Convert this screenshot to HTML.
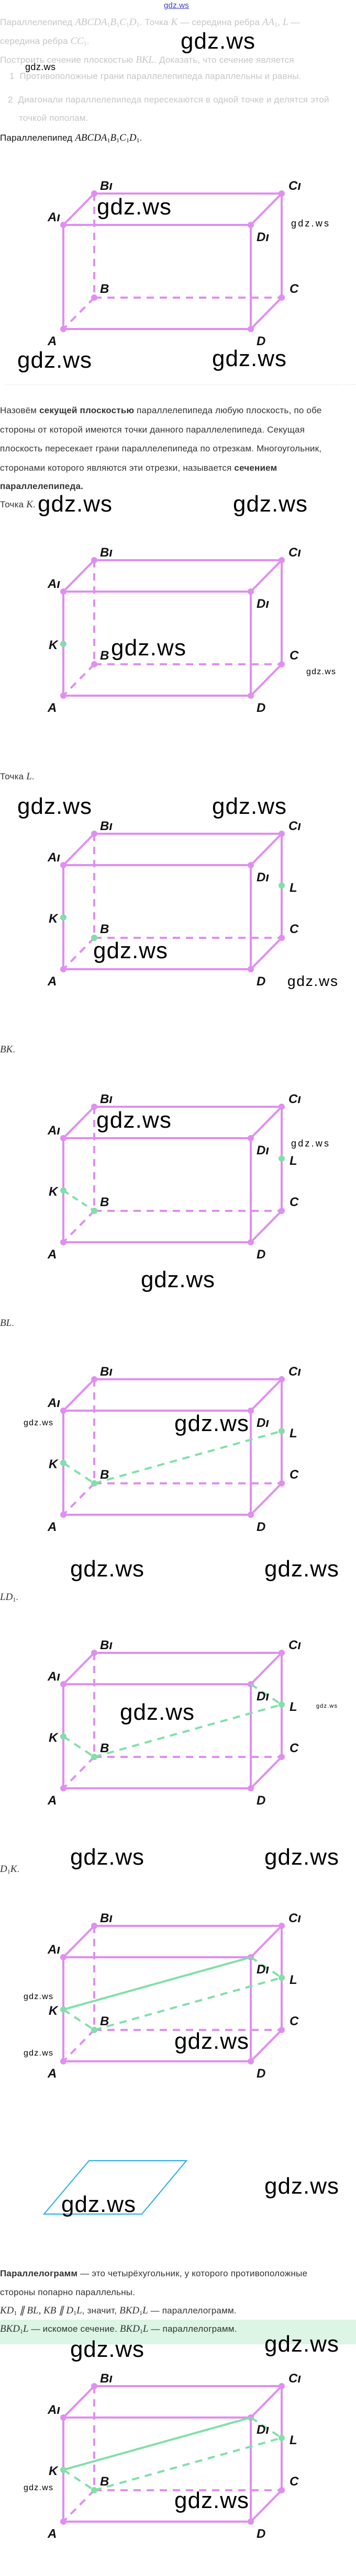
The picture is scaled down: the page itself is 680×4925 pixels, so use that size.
<!DOCTYPE html>
<html><head><meta charset="utf-8">
<style>
html,body{margin:0;padding:0;background:#fff;}
body{width:680px;height:4925px;position:relative;overflow:hidden;font-family:"Liberation Sans",sans-serif;}
.t{position:absolute;white-space:nowrap;font-size:17px;line-height:20px;letter-spacing:.2px;color:#333;}
.g{color:#c6c6c6;}
.m{font-family:"Liberation Serif",serif;font-style:italic;font-size:19px;letter-spacing:0;}
.m sub{font-size:12px;font-style:normal;vertical-align:-3px;}
svg{position:absolute;left:0;top:0;}
</style></head><body>

<div class="t" style="left:313px;top:1px;font-size:15px;color:#3b3bd0;text-decoration:underline;">gdz.ws</div>

<div class="t g" style="left:0;top:33px;">Параллелепипед <span class="m">ABCDA<sub>1</sub>B<sub>1</sub>C<sub>1</sub>D<sub>1</sub></span>. Точка <span class="m">K</span> — середина ребра <span class="m">AA<sub>1</sub></span>, <span class="m">L</span> —</div>
<div class="t g" style="left:0;top:69px;">середина ребра <span class="m">CC<sub>1</sub></span>.</div>
<div class="t g" style="left:0;top:105px;">Построить сечение плоскостью <span class="m">BKL</span>. Доказать, что сечение является</div>
<div class="t g" style="left:18px;top:136px;">1&nbsp;&nbsp;Противоположные грани параллелепипеда параллельны и равны.</div>
<div class="t g" style="left:15px;top:181px;">2&nbsp;&nbsp;Диагонали параллелепипеда пересекаются в одной точке и делятся этой</div>
<div class="t g" style="left:36px;top:216px;">точкой пополам.</div>
<div class="t" style="left:0;top:254px;color:#111;">Параллелепипед <span class="m">ABCDA<sub>1</sub>B<sub>1</sub>C<sub>1</sub>D<sub>1</sub></span>.</div>

<div style="position:absolute;left:10px;top:735px;width:670px;border-top:1px dashed #e6e6e6;"></div>

<div class="t" style="left:0;top:775px;">Назовём <b>секущей плоскостью</b> параллелепипеда любую плоскость, по обе</div>
<div class="t" style="left:0;top:812px;">стороны от которой имеются точки данного параллелепипеда. Секущая</div>
<div class="t" style="left:0;top:848px;">плоскость пересекает грани параллелепипеда по отрезкам. Многоугольник,</div>
<div class="t" style="left:0;top:885px;">сторонами которого являются эти отрезки, называется <b>сечением</b></div>
<div class="t" style="left:0;top:920px;"><b>параллелепипеда.</b></div>
<div class="t" style="left:0;top:955px;">Точка <span class="m">K</span>.</div>
<div class="t" style="left:0;top:1475px;">Точка <span class="m">L</span>.</div>
<div class="t" style="left:0;top:1997px;"><span class="m">BK</span>.</div>
<div class="t" style="left:0;top:2520px;"><span class="m">BL</span>.</div>
<div class="t" style="left:0;top:3044px;"><span class="m">LD<sub>1</sub></span>.</div>
<div class="t" style="left:0;top:3564px;"><span class="m">D<sub>1</sub>K</span>.</div>

<div class="t" style="left:0;top:4337px;"><b>Параллелограмм</b> — это четырёхугольник, у которого противоположные</div>
<div class="t" style="left:0;top:4373px;">стороны попарно параллельны.</div>
<div class="t" style="left:0;top:4408px;"><span class="m">KD<sub>1</sub> ∥ BL, KB ∥ D<sub>1</sub>L</span>, значит, <span class="m">BKD<sub>1</sub>L</span> — параллелограмм.</div>
<div style="position:absolute;left:0;top:4435px;width:680px;height:47px;background:#dcf5e4;"></div>
<div class="t" style="left:0;top:4443px;"><span class="m">BKD<sub>1</sub>L</span> — искомое сечение. <span class="m">BKD<sub>1</sub>L</span> — параллелограмм.</div>

<svg width="680" height="4925" viewBox="0 0 680 4925" xmlns="http://www.w3.org/2000/svg">
<defs>
<g id="cube">
 <g fill="none" stroke="#e08ef0" stroke-width="4" stroke-linejoin="round">
  <path d="M121,60 L180,0 L538,0 L479,60 Z M121,60 V259 H479 V60 M538,0 V199 L479,259"/>
  <path d="M180,0 V199 M180,199 H538 M180,199 L121,259" stroke-dasharray="14 11"/>
 </g>
 <g fill="#e08ef0">
  <circle cx="121" cy="60" r="6"/><circle cx="180" cy="0" r="6"/><circle cx="538" cy="0" r="6"/><circle cx="479" cy="60" r="6"/>
  <circle cx="121" cy="259" r="6"/><circle cx="479" cy="259" r="6"/><circle cx="538" cy="199" r="6"/><circle cx="180" cy="199" r="6"/>
 </g>
</g>
</defs>
<style>
.lb{font-family:"Liberation Sans",sans-serif;font-weight:bold;font-style:italic;font-size:24px;fill:#111;}
.w{font-family:"Liberation Sans",sans-serif;fill:#000;}
</style>

<g transform="translate(0,370)">
 <use href="#cube"/>
 <text class="lb" x="191" y="-7">Bı</text><text class="lb" x="551" y="-7">Cı</text>
 <text class="lb" x="91" y="53">Aı</text><text class="lb" x="490" y="91">Dı</text>
 <text class="lb" x="191" y="190">B</text><text class="lb" x="553" y="190">C</text>
 <text class="lb" x="91" y="290">A</text><text class="lb" x="490" y="290">D</text>
</g>
<g transform="translate(0,1071)">
 <use href="#cube"/>
 <circle cx="121" cy="160" r="6" fill="#80e0a8"/>
 <text class="lb" x="191" y="-7">Bı</text><text class="lb" x="551" y="-7">Cı</text>
 <text class="lb" x="91" y="53">Aı</text><text class="lb" x="490" y="91">Dı</text>
 <text class="lb" x="191" y="190">B</text><text class="lb" x="553" y="190">C</text>
 <text class="lb" x="91" y="290">A</text><text class="lb" x="490" y="290">D</text>
 <text class="lb" x="93" y="170">K</text>
</g>
<g transform="translate(0,1594)">
 <use href="#cube"/>
 <g fill="#80e0a8"><circle cx="121" cy="160" r="6"/><circle cx="538" cy="99" r="6"/><circle cx="180" cy="199" r="6"/></g>
 <text class="lb" x="191" y="-7">Bı</text><text class="lb" x="551" y="-7">Cı</text>
 <text class="lb" x="91" y="53">Aı</text><text class="lb" x="490" y="91">Dı</text>
 <text class="lb" x="191" y="190">B</text><text class="lb" x="553" y="190">C</text>
 <text class="lb" x="91" y="290">A</text><text class="lb" x="490" y="290">D</text>
 <text class="lb" x="93" y="170">K</text><text class="lb" x="553" y="111">L</text>
</g>
<g transform="translate(0,2116)">
 <use href="#cube"/>
 <path d="M121,160 L180,199" stroke="#80e0a8" stroke-width="4" fill="none" stroke-dasharray="12 9"/>
 <g fill="#80e0a8"><circle cx="121" cy="160" r="6"/><circle cx="538" cy="99" r="6"/><circle cx="180" cy="199" r="6"/></g>
 <text class="lb" x="191" y="-7">Bı</text><text class="lb" x="551" y="-7">Cı</text>
 <text class="lb" x="91" y="53">Aı</text><text class="lb" x="490" y="91">Dı</text>
 <text class="lb" x="191" y="190">B</text><text class="lb" x="553" y="190">C</text>
 <text class="lb" x="91" y="290">A</text><text class="lb" x="490" y="290">D</text>
 <text class="lb" x="93" y="170">K</text><text class="lb" x="553" y="111">L</text>
</g>
<g transform="translate(0,2637)">
 <use href="#cube"/>
 <path d="M121,160 L180,199 M180,199 L538,99" stroke="#80e0a8" stroke-width="4" fill="none" stroke-dasharray="14 11"/>
 <g fill="#80e0a8"><circle cx="121" cy="160" r="6"/><circle cx="538" cy="99" r="6"/><circle cx="180" cy="199" r="6"/></g>
 <text class="lb" x="191" y="-7">Bı</text><text class="lb" x="551" y="-7">Cı</text>
 <text class="lb" x="91" y="53">Aı</text><text class="lb" x="490" y="91">Dı</text>
 <text class="lb" x="191" y="190">B</text><text class="lb" x="553" y="190">C</text>
 <text class="lb" x="91" y="290">A</text><text class="lb" x="490" y="290">D</text>
 <text class="lb" x="93" y="170">K</text><text class="lb" x="553" y="111">L</text>
</g>
<g transform="translate(0,3160)">
 <use href="#cube"/>
 <path d="M121,160 L180,199 M180,199 L538,99 M479,60 L538,99" stroke="#80e0a8" stroke-width="4" fill="none" stroke-dasharray="14 11"/>
 <g fill="#80e0a8"><circle cx="121" cy="160" r="6"/><circle cx="538" cy="99" r="6"/><circle cx="180" cy="199" r="6"/></g>
 <text class="lb" x="191" y="-7">Bı</text><text class="lb" x="551" y="-7">Cı</text>
 <text class="lb" x="91" y="53">Aı</text><text class="lb" x="490" y="91">Dı</text>
 <text class="lb" x="191" y="190">B</text><text class="lb" x="553" y="190">C</text>
 <text class="lb" x="91" y="290">A</text><text class="lb" x="490" y="290">D</text>
 <text class="lb" x="93" y="170">K</text><text class="lb" x="553" y="111">L</text>
</g>
<g transform="translate(0,3682)">
 <use href="#cube"/>
 <path d="M121,160 L180,199 M180,199 L538,99 M479,60 L538,99" stroke="#80e0a8" stroke-width="4" fill="none" stroke-dasharray="14 11"/>
 <path d="M121,160 L479,60" stroke="#80e0a8" stroke-width="4" fill="none"/>
 <g fill="#80e0a8"><circle cx="121" cy="160" r="6"/><circle cx="538" cy="99" r="6"/><circle cx="180" cy="199" r="6"/></g>
 <text class="lb" x="191" y="-7">Bı</text><text class="lb" x="551" y="-7">Cı</text>
 <text class="lb" x="91" y="53">Aı</text><text class="lb" x="490" y="91">Dı</text>
 <text class="lb" x="191" y="190">B</text><text class="lb" x="553" y="190">C</text>
 <text class="lb" x="91" y="290">A</text><text class="lb" x="490" y="290">D</text>
 <text class="lb" x="93" y="170">K</text><text class="lb" x="553" y="111">L</text>
</g>
<path d="M170,4131 L356,4131 L271,4233 L84,4233 Z" fill="none" stroke="#22aee0" stroke-width="2"/>
<g transform="translate(0,4562)">
 <use href="#cube"/>
 <path d="M121,160 L180,199 M180,199 L538,99 M479,60 L538,99" stroke="#80e0a8" stroke-width="4" fill="none" stroke-dasharray="14 11"/>
 <path d="M121,160 L479,60" stroke="#80e0a8" stroke-width="4" fill="none"/>
 <g fill="#80e0a8"><circle cx="121" cy="160" r="6"/><circle cx="538" cy="99" r="6"/><circle cx="180" cy="199" r="6"/></g>
 <text class="lb" x="191" y="-7">Bı</text><text class="lb" x="551" y="-7">Cı</text>
 <text class="lb" x="91" y="53">Aı</text><text class="lb" x="490" y="91">Dı</text>
 <text class="lb" x="191" y="190">B</text><text class="lb" x="553" y="190">C</text>
 <text class="lb" x="91" y="290">A</text><text class="lb" x="490" y="290">D</text>
 <text class="lb" x="93" y="170">K</text><text class="lb" x="553" y="111">L</text>
</g>

<g class="w">
 <text x="48" y="134" font-size="18" textLength="58">gdz.ws</text>
 <text x="345" y="93" font-size="44" textLength="142">gdz.ws</text>
 <text x="185" y="410" font-size="44" textLength="142">gdz.ws</text>
 <text x="556" y="433" font-size="18" textLength="72">gdz.ws</text>
 <text x="33" y="703" font-size="44" textLength="142">gdz.ws</text>
 <text x="405" y="700" font-size="44" textLength="142">gdz.ws</text>
 <text x="72" y="978" font-size="44" textLength="142">gdz.ws</text>
 <text x="445" y="978" font-size="44" textLength="142">gdz.ws</text>
 <text x="212" y="1253" font-size="44" textLength="143">gdz.ws</text>
 <text x="585" y="1289" font-size="16" textLength="56">gdz.ws</text>
 <text x="33" y="1556" font-size="44" textLength="142">gdz.ws</text>
 <text x="405" y="1556" font-size="44" textLength="142">gdz.ws</text>
 <text x="178" y="1832" font-size="44" textLength="142">gdz.ws</text>
 <text x="549" y="1885" font-size="28" textLength="96">gdz.ws</text>
 <text x="184" y="2156" font-size="44" textLength="143">gdz.ws</text>
 <text x="556" y="2192" font-size="18" textLength="72">gdz.ws</text>
 <text x="269" y="2461" font-size="44" textLength="141">gdz.ws</text>
 <text x="45" y="2725" font-size="16" textLength="56">gdz.ws</text>
 <text x="333" y="2736" font-size="44" textLength="142">gdz.ws</text>
 <text x="134" y="3014" font-size="44" textLength="141">gdz.ws</text>
 <text x="505" y="3014" font-size="44" textLength="142">gdz.ws</text>
 <text x="229" y="3288" font-size="44" textLength="142">gdz.ws</text>
 <text x="604" y="3265" font-size="11" textLength="40">gdz.ws</text>
 <text x="134" y="3565" font-size="44" textLength="141">gdz.ws</text>
 <text x="505" y="3565" font-size="44" textLength="142">gdz.ws</text>
 <text x="45" y="3822" font-size="16" textLength="56">gdz.ws</text>
 <text x="45" y="3930" font-size="16" textLength="56">gdz.ws</text>
 <text x="333" y="3917" font-size="44" textLength="142">gdz.ws</text>
 <text x="117" y="4229" font-size="44" textLength="142">gdz.ws</text>
 <text x="505" y="4194" font-size="44" textLength="142">gdz.ws</text>
 <text x="134" y="4506" font-size="44" textLength="141">gdz.ws</text>
 <text x="505" y="4496" font-size="44" textLength="142">gdz.ws</text>
 <text x="45" y="4761" font-size="16" textLength="56">gdz.ws</text>
 <text x="333" y="4795" font-size="44" textLength="142">gdz.ws</text>
</g>
</svg>
</body></html>
